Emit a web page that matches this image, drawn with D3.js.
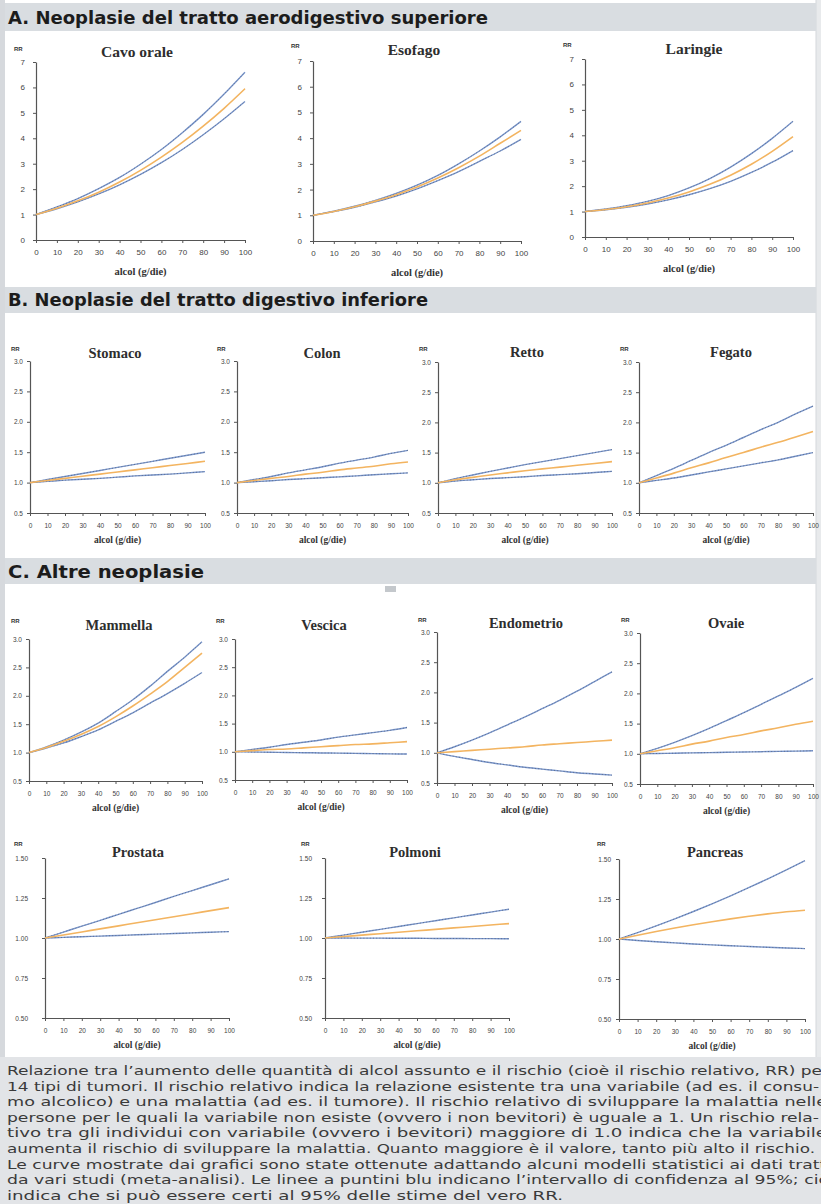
<!DOCTYPE html>
<html>
<head>
<meta charset="utf-8">
<script src="https://cdn.jsdelivr.net/npm/d3@7/dist/d3.min.js"></script>
<style>
  body { margin: 0; background: #fff; }
  svg { display: block; }
</style>
</head>
<body>
<svg id="chart" width="821" height="1204"></svg>
<script>
// ---- Dati: rischio relativo (RR) per dose di alcol (g/die) ----
const dosi = [0, 10, 20, 30, 40, 50, 60, 70, 80, 90, 100];
const tickDose = [0, 10, 20, 30, 40, 50, 60, 70, 80, 90, 100];
const tickRR_A = [0, 1, 2, 3, 4, 5, 6, 7];
const tickRR_B = [0.5, 1.0, 1.5, 2.0, 2.5, 3.0];
const tickRR_C = [0.50, 0.75, 1.00, 1.25, 1.50];

const sezioni = [
  "A. Neoplasie del tratto aerodigestivo superiore",
  "B. Neoplasie del tratto digestivo inferiore",
  "C. Altre neoplasie"
];

const cavoOraleSup  = [1, 1.30, 1.63, 2.02, 2.46, 2.98, 3.56, 4.22, 4.94, 5.74, 6.60];
const cavoOraleRR   = [1, 1.25, 1.54, 1.88, 2.28, 2.74, 3.26, 3.84, 4.48, 5.18, 5.95];
const cavoOraleInf  = [1, 1.23, 1.50, 1.81, 2.17, 2.58, 3.04, 3.56, 4.14, 4.77, 5.45];

const esofagoSup    = [1, 1.16, 1.35, 1.58, 1.85, 2.17, 2.55, 3.00, 3.50, 4.05, 4.65];
const esofagoRR     = [1, 1.15, 1.33, 1.55, 1.80, 2.10, 2.45, 2.85, 3.30, 3.80, 4.30];
const esofagoInf    = [1, 1.14, 1.31, 1.52, 1.75, 2.03, 2.35, 2.70, 3.10, 3.50, 3.95];

const laringeSup    = [1, 1.10, 1.23, 1.40, 1.63, 1.93, 2.30, 2.75, 3.28, 3.88, 4.55];
const laringeRR     = [1, 1.08, 1.19, 1.34, 1.53, 1.77, 2.07, 2.43, 2.86, 3.37, 3.95];
const laringeInf    = [1, 1.07, 1.17, 1.30, 1.46, 1.66, 1.90, 2.19, 2.54, 2.94, 3.40];

const stomacoSup    = [1, 1.05, 1.10, 1.15, 1.20, 1.25, 1.30, 1.35, 1.40, 1.45, 1.50];
const stomacoRR     = [1, 1.035, 1.07, 1.105, 1.14, 1.175, 1.21, 1.245, 1.28, 1.315, 1.35];
const stomacoInf    = [1, 1.02, 1.04, 1.055, 1.07, 1.09, 1.11, 1.125, 1.14, 1.16, 1.18];

const colonSup      = [1, 1.05, 1.10, 1.16, 1.21, 1.26, 1.32, 1.37, 1.42, 1.48, 1.53];
const colonRR       = [1, 1.035, 1.07, 1.10, 1.14, 1.17, 1.21, 1.24, 1.27, 1.31, 1.34];
const colonInf      = [1, 1.015, 1.03, 1.05, 1.065, 1.08, 1.095, 1.11, 1.13, 1.145, 1.16];

const rettoSup      = [1, 1.07, 1.13, 1.19, 1.245, 1.30, 1.35, 1.40, 1.45, 1.50, 1.55];
const rettoRR       = [1, 1.05, 1.09, 1.13, 1.165, 1.20, 1.23, 1.26, 1.29, 1.32, 1.35];
const rettoInf      = [1, 1.03, 1.05, 1.07, 1.085, 1.10, 1.12, 1.135, 1.15, 1.17, 1.19];

const fegatoSup     = [1, 1.12, 1.24, 1.37, 1.50, 1.62, 1.75, 1.88, 2.00, 2.14, 2.27];
const fegatoRR      = [1, 1.08, 1.16, 1.25, 1.33, 1.42, 1.50, 1.59, 1.67, 1.76, 1.85];
const fegatoInf     = [1, 1.04, 1.08, 1.13, 1.18, 1.23, 1.28, 1.33, 1.38, 1.44, 1.50];

const mammellaSup   = [1, 1.10, 1.22, 1.36, 1.52, 1.72, 1.93, 2.17, 2.43, 2.68, 2.95];
const mammellaRR    = [1, 1.09, 1.20, 1.32, 1.46, 1.63, 1.82, 2.03, 2.25, 2.50, 2.75];
const mammellaInf   = [1, 1.08, 1.17, 1.28, 1.40, 1.55, 1.70, 1.87, 2.04, 2.22, 2.41];

const vescicaSup    = [1, 1.04, 1.08, 1.13, 1.17, 1.21, 1.26, 1.30, 1.34, 1.38, 1.43];
const vescicaRR     = [1, 1.02, 1.04, 1.05, 1.07, 1.09, 1.11, 1.13, 1.14, 1.16, 1.18];
const vescicaInf    = [1, 0.996, 0.992, 0.988, 0.984, 0.98, 0.976, 0.972, 0.968, 0.964, 0.96];

const endometrioSup = [1, 1.10, 1.21, 1.33, 1.46, 1.59, 1.73, 1.87, 2.02, 2.18, 2.34];
const endometrioRR  = [1, 1.02, 1.04, 1.06, 1.08, 1.10, 1.13, 1.15, 1.17, 1.19, 1.21];
const endometrioInf = [1, 0.94, 0.89, 0.84, 0.80, 0.76, 0.73, 0.70, 0.67, 0.65, 0.63];

const ovaieSup      = [1, 1.09, 1.19, 1.30, 1.42, 1.55, 1.68, 1.82, 1.96, 2.10, 2.25];
const ovaieRR       = [1, 1.05, 1.10, 1.16, 1.21, 1.27, 1.32, 1.38, 1.43, 1.49, 1.54];
const ovaieInf      = [1, 1.005, 1.01, 1.015, 1.02, 1.025, 1.03, 1.035, 1.04, 1.045, 1.05];

const prostataSup   = [1, 1.037, 1.074, 1.11, 1.148, 1.185, 1.222, 1.26, 1.296, 1.333, 1.37];
const prostataRR    = [1, 1.019, 1.038, 1.057, 1.076, 1.095, 1.114, 1.133, 1.152, 1.171, 1.19];
const prostataInf   = [1, 1.004, 1.008, 1.012, 1.016, 1.02, 1.024, 1.028, 1.032, 1.036, 1.04];

const polmoniSup    = [1, 1.018, 1.036, 1.054, 1.072, 1.09, 1.108, 1.126, 1.144, 1.162, 1.18];
const polmoniRR     = [1, 1.009, 1.018, 1.027, 1.036, 1.045, 1.054, 1.063, 1.072, 1.081, 1.09];
const polmoniInf    = [1, 1.0, 0.999, 0.999, 0.998, 0.998, 0.997, 0.997, 0.996, 0.996, 0.995];

const pancreasSup   = [1, 1.04, 1.082, 1.126, 1.172, 1.22, 1.27, 1.322, 1.376, 1.432, 1.49];
const pancreasRR    = [1, 1.024, 1.047, 1.069, 1.089, 1.108, 1.126, 1.142, 1.157, 1.17, 1.18];
const pancreasInf   = [1, 0.991, 0.983, 0.976, 0.969, 0.963, 0.958, 0.953, 0.948, 0.944, 0.94];

const didascalia = [
  "Relazione tra l’aumento delle quantità di alcol assunto e il rischio (cioè il rischio relativo, RR) per",
  "14 tipi di tumori. Il rischio relativo indica la relazione esistente tra una variabile (ad es. il consu-",
  "mo alcolico) e una malattia (ad es. il tumore). Il rischio relativo di sviluppare la malattia nelle",
  "persone per le quali la variabile non esiste (ovvero i non bevitori) è uguale a 1. Un rischio rela-",
  "tivo tra gli individui con variabile (ovvero i bevitori) maggiore di 1.0 indica che la variabile",
  "aumenta il rischio di sviluppare la malattia. Quanto maggiore è il valore, tanto più alto il rischio.",
  "Le curve mostrate dai grafici sono state ottenute adattando alcuni modelli statistici ai dati tratti",
  "da vari studi (meta-analisi). Le linee a puntini blu indicano l’intervallo di confidenza al 95%; ciò",
  "indica che si può essere certi al 95% delle stime del vero RR."
];
const larghezzeRighe = [822, 812, 820, 812, 820, 808, 824, 822, 556];

// ---- Impaginazione dei pannelli ----
const fmtA = d3.format("d"), fmtB = d3.format(".1f"), fmtC = d3.format(".2f");
const rigaA = { dom: [0, 7], ticks: tickRR_A, fmt: fmtA, tick: 8, tsize: 15.5, xl: 10.5 };
const rigaB = { dom: [0.5, 3.0], ticks: tickRR_B, fmt: fmtB, tick: 6.5, tsize: 14.5, xl: 9.5 };
const rigaC = { dom: [0.5, 1.5], ticks: tickRR_C, fmt: fmtC, tick: 6.5, tsize: 14.5, xl: 9.5 };

const pannelli = [
  { titolo: "Cavo orale", sup: cavoOraleSup, rr: cavoOraleRR, inf: cavoOraleInf, riga: rigaA, ax: 36, xe: 245, yt: 62, yb: 240, pad: 8, tx: 137, ty: 57, rx: 14, ry: 51 },
  { titolo: "Esofago", sup: esofagoSup, rr: esofagoRR, inf: esofagoInf, riga: rigaA, ax: 313, xe: 521, yt: 61, yb: 241, pad: 8, tx: 414, ty: 55, rx: 291, ry: 48 },
  { titolo: "Laringie", sup: laringeSup, rr: laringeRR, inf: laringeInf, riga: rigaA, ax: 585, xe: 793, yt: 59, yb: 237, pad: 8, tx: 694, ty: 54, rx: 563, ry: 47 },

  { titolo: "Stomaco", sup: stomacoSup, rr: stomacoRR, inf: stomacoInf, riga: rigaB, ax: 30, xe: 205, yt: 361, yb: 513, pad: 4, tx: 115, ty: 358, rx: 11, ry: 351 },
  { titolo: "Colon", sup: colonSup, rr: colonRR, inf: colonInf, riga: rigaB, ax: 237, xe: 408, yt: 361, yb: 513, pad: 4, tx: 322, ty: 358, rx: 217, ry: 351 },
  { titolo: "Retto", sup: rettoSup, rr: rettoRR, inf: rettoInf, riga: rigaB, ax: 438, xe: 612, yt: 362, yb: 513, pad: 4, tx: 527, ty: 357, rx: 419, ry: 351 },
  { titolo: "Fegato", sup: fegatoSup, rr: fegatoRR, inf: fegatoInf, riga: rigaB, ax: 639, xe: 813, yt: 362, yb: 513, pad: 4, tx: 731, ty: 357, rx: 620, ry: 351 },

  { titolo: "Mammella", sup: mammellaSup, rr: mammellaRR, inf: mammellaInf, riga: rigaB, ax: 29, xe: 202, yt: 639, yb: 781, pad: 4, tx: 119, ty: 630, rx: 11, ry: 623 },
  { titolo: "Vescica", sup: vescicaSup, rr: vescicaRR, inf: vescicaInf, riga: rigaB, ax: 235, xe: 407, yt: 639, yb: 780, pad: 4, tx: 324, ty: 630, rx: 216, ry: 623 },
  { titolo: "Endometrio", sup: endometrioSup, rr: endometrioRR, inf: endometrioInf, riga: rigaB, ax: 437, xe: 612, yt: 632, yb: 783, pad: 4, tx: 526, ty: 628, rx: 418, ry: 622 },
  { titolo: "Ovaie", sup: ovaieSup, rr: ovaieRR, inf: ovaieInf, riga: rigaB, ax: 640, xe: 813, yt: 633, yb: 784, pad: 4, tx: 726, ty: 628, rx: 621, ry: 622 },

  { titolo: "Prostata", sup: prostataSup, rr: prostataRR, inf: prostataInf, riga: rigaC, ax: 45, xe: 229, yt: 858, yb: 1018, pad: 14, tx: 138, ty: 857, rx: 14, ry: 846 },
  { titolo: "Polmoni", sup: polmoniSup, rr: polmoniRR, inf: polmoniInf, riga: rigaC, ax: 325, xe: 509, yt: 858, yb: 1018, pad: 10, tx: 415, ty: 857, rx: 301, ry: 846 },
  { titolo: "Pancreas", sup: pancreasSup, rr: pancreasRR, inf: pancreasInf, riga: rigaC, ax: 619, xe: 805, yt: 859, yb: 1019, pad: 5, tx: 715, ty: 857, rx: 597, ry: 846 }
];

const bande = [
  { testo: sezioni[0], y0: 3, y1: 31, base: 24, w: 480 },
  { testo: sezioni[1], y0: 287, y1: 313, base: 306, w: 420 },
  { testo: sezioni[2], y0: 558, y1: 584, base: 578, w: 196 }
];

// ---- Disegno ----
const svg = d3.select("#chart");
svg.append("rect").attr("width", 821).attr("height", 1204).attr("fill", "#ffffff");

// cornice grigia laterale
svg.append("rect").attr("x", 0).attr("y", 0).attr("width", 5).attr("height", 1204).attr("fill", "#d6d9dd");
svg.append("rect").attr("x", 816).attr("y", 0).attr("width", 5).attr("height", 1204).attr("fill", "#e8eaec");
svg.append("line").attr("x1", 816).attr("x2", 816).attr("y1", 0).attr("y2", 1204)
  .attr("stroke", "#d4d7db").attr("stroke-width", 1);

// bande di sezione
bande.forEach(b => {
  svg.append("rect").attr("x", 5).attr("y", b.y0).attr("width", 811).attr("height", b.y1 - b.y0)
    .attr("fill", "#d9dde1");
  svg.append("text").attr("x", 8).attr("y", b.base).text(b.testo)
    .attr("font-family", "'DejaVu Sans', Verdana, sans-serif").attr("font-weight", "bold")
    .attr("font-size", 17).attr("fill", "#1c1c1c")
    .attr("textLength", b.w).attr("lengthAdjust", "spacingAndGlyphs");
});

// piccola icona grigia nella sezione C
svg.append("rect").attr("x", 385).attr("y", 586).attr("width", 11).attr("height", 6)
  .attr("fill", "#c4c8cc");

const lineGen = (x, y) => d3.line()
  .x((d, i) => x(dosi[i]))
  .y(d => y(d))
  .curve(d3.curveMonotoneX);

pannelli.forEach(p => {
  const r = p.riga;
  const g = svg.append("g");
  const x = d3.scaleLinear().domain([0, 100]).range([p.ax, p.xe]);
  const y = d3.scaleLinear().domain(r.dom).range([p.yb, p.yt]);

  const yAxis = d3.axisLeft(y).tickValues(r.ticks).tickFormat(r.fmt)
    .tickSize(3).tickSizeOuter(0).tickPadding(p.pad);
  const xAxis = d3.axisBottom(x).tickValues(tickDose).tickFormat(d3.format("d"))
    .tickSize(3).tickSizeOuter(0).tickPadding(r === rigaA ? 6 : 7);

  const ga = g.append("g").attr("transform", `translate(${p.ax},0)`).call(yAxis);
  const gb = g.append("g").attr("transform", `translate(0,${p.yb})`).call(xAxis);
  [ga, gb].forEach(a => {
    a.select(".domain").attr("stroke", "#555").attr("stroke-width", 1.2);
    a.selectAll(".tick line").attr("stroke", "#555").attr("stroke-width", 1);
    a.selectAll(".tick text").attr("fill", "#444")
      .attr("font-family", "'Liberation Sans', Arial, sans-serif").attr("font-size", r.tick);
  });

  // etichetta RR
  g.append("text").attr("x", p.rx).attr("y", p.ry).text("RR")
    .attr("font-family", "'Liberation Sans', Arial, sans-serif").attr("font-weight", "bold")
    .attr("font-size", 6).attr("fill", "#333");

  // titolo del pannello
  g.append("text").attr("x", p.tx).attr("y", p.ty).attr("text-anchor", "middle").text(p.titolo)
    .attr("font-family", "'Liberation Serif', 'Times New Roman', serif").attr("font-weight", "bold")
    .attr("font-size", r.tsize).attr("fill", "#2e2e2e");

  // etichetta asse x
  g.append("text").attr("x", (p.ax + p.xe) / 2).attr("y", p.yb + (r === rigaA ? 35 : 30))
    .attr("text-anchor", "middle").text("alcol (g/die)")
    .attr("font-family", "'Liberation Serif', 'Times New Roman', serif").attr("font-weight", "bold")
    .attr("font-size", r.xl).attr("fill", "#333");

  const lg = lineGen(x, y);
  // intervalli di confidenza al 95% (linee blu punteggiate)
  [p.inf, p.sup].forEach(s => {
    g.append("path").attr("d", lg(s)).attr("fill", "none")
      .attr("stroke", "#7895cc").attr("stroke-width", 1.4);
    g.append("path").attr("d", lg(s)).attr("fill", "none")
      .attr("stroke", "#4f5664").attr("stroke-width", 1)
      .attr("stroke-dasharray", "1,2.2").attr("opacity", 0.6);
  });
  // stima centrale del rischio relativo
  g.append("path").attr("d", lg(p.rr)).attr("fill", "none")
    .attr("stroke", "#f3b460").attr("stroke-width", 1.6);
});

// didascalia
svg.append("rect").attr("x", 0).attr("y", 1057).attr("width", 821).attr("height", 147)
  .attr("fill", "#e2e4e7");
didascalia.forEach((riga, i) => {
  svg.append("text").attr("x", 7).attr("y", 1075 + i * 15.6).text(riga)
    .attr("font-family", "'DejaVu Sans', Verdana, sans-serif").attr("font-size", 13)
    .attr("fill", "#3a3a3a")
    .attr("textLength", larghezzeRighe[i]).attr("lengthAdjust", "spacingAndGlyphs");
});
</script>
</body>
</html>
